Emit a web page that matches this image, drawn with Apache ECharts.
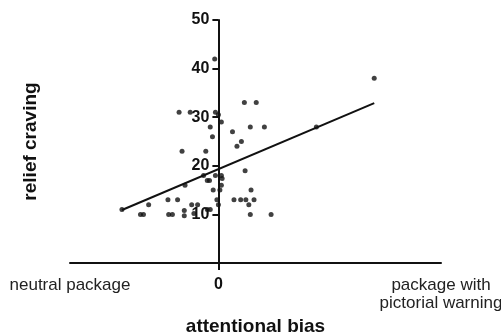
<!DOCTYPE html>
<html><head><meta charset="utf-8">
<script src="https://cdn.jsdelivr.net/npm/echarts@6/dist/echarts.min.js"></script>
<style>html,body{margin:0;padding:0;background:#fff}#c{width:501px;height:334px}</style>
</head><body><div id="c"></div>
<script>
var biasX = [-5,-53,-38,-4,0,4,-11,-8,35,51,43,62,19,31,25,-49,-17,36,4,-4,-15,-12,-45,4,-7,2,44,-94,-68,-55,-2,0,21,30,37,48,41,-36,-28,-105,-101,-67,-62,-46,-46,-15,-11,43,71,-130,210,132,-20,-33,5];
var cravingY = [42,31,31,31,30.5,29,28,26,33,33,28,28,27,25,24,23,23,19,18,18,17,17,16,16,15,15,15,12,13,13,13,12,13,13,13,13,12,12,12,10,10,10,10,10.8,9.7,11,11,10,10,11,38,28,18,10.2,17.4];
var fitX = [-130, 210];
var fitY = [10.9, 32.9];
var xTickValues = [-200, 0, 300];
var xTickLabels = ['neutral package', '0', 'package with\npictorial warning'];
var yTickValues = [10, 20, 30, 40, 50];

var pts = biasX.map(function(x, i){ return [x, cravingY[i]]; });
var line = fitX.map(function(x, i){ return [x, fitY[i]]; });
var FONT = 'Liberation Sans, Arial, sans-serif';
var GRID_LEFT = 70, GRID_RIGHT = 60, XMIN = -200, XMAX = 300;

var chart = echarts.init(document.getElementById('c'), null, {renderer:'canvas'});
// place the y axis at x = 0 of the x scale
var plotW = 501 - GRID_LEFT - GRID_RIGHT;
var yAxisOffset = -plotW * (0 - XMIN) / (XMAX - XMIN);
chart.setOption({
  animation:false,
  grid:{left:GRID_LEFT, right:GRID_RIGHT, top:20, bottom:71, containLabel:false, outerBoundsMode:'none'},
  xAxis:{
    type:'value', min:XMIN, max:XMAX, interval:100,
    splitLine:{show:false},
    axisLine:{onZero:false, lineStyle:{color:'#111', width:2}},
    axisTick:{show:true, customValues:[0], length:7, lineStyle:{color:'#111', width:2}},
    axisLabel:{
      customValues: xTickValues,
      margin:13, color:'#222', fontFamily:FONT, fontSize:17, lineHeight:18,
      showMinLabel:true, showMaxLabel:true,
      formatter:function(v){
        var i = xTickValues.indexOf(v);
        if (i < 0) return '';
        if (v === 0) return '{b|' + xTickLabels[i] + '}';
        return xTickLabels[i];
      },
      rich:{b:{fontWeight:'bold', fontSize:16, fontFamily:FONT, color:'#111'}}
    },
    name:'attentional bias', nameLocation:'middle', nameGap:48,
    nameTextStyle:{fontFamily:FONT, fontWeight:'bold', fontSize:19, color:'#111'}
  },
  yAxis:{
    type:'value', min:0, max:50, interval:10, position:'left', offset:yAxisOffset,
    splitLine:{show:false},
    axisLine:{onZero:false, lineStyle:{color:'#111', width:2}},
    axisTick:{show:true, customValues:yTickValues, length:6, lineStyle:{color:'#111', width:2}},
    axisLabel:{showMinLabel:false, margin:9, color:'#111', fontFamily:FONT, fontWeight:'bold', fontSize:16},
    name:'relief craving', nameLocation:'middle', nameGap:178, nameRotate:90,
    nameTextStyle:{fontFamily:FONT, fontWeight:'bold', fontSize:19, color:'#111'}
  },
  series:[
    {type:'scatter', data:pts, symbol:'circle', symbolSize:5, itemStyle:{color:'#111'}, z:3},
    {type:'line', data:line, showSymbol:false, lineStyle:{color:'#111', width:2}, z:2}
  ]
});
</script></body></html>
